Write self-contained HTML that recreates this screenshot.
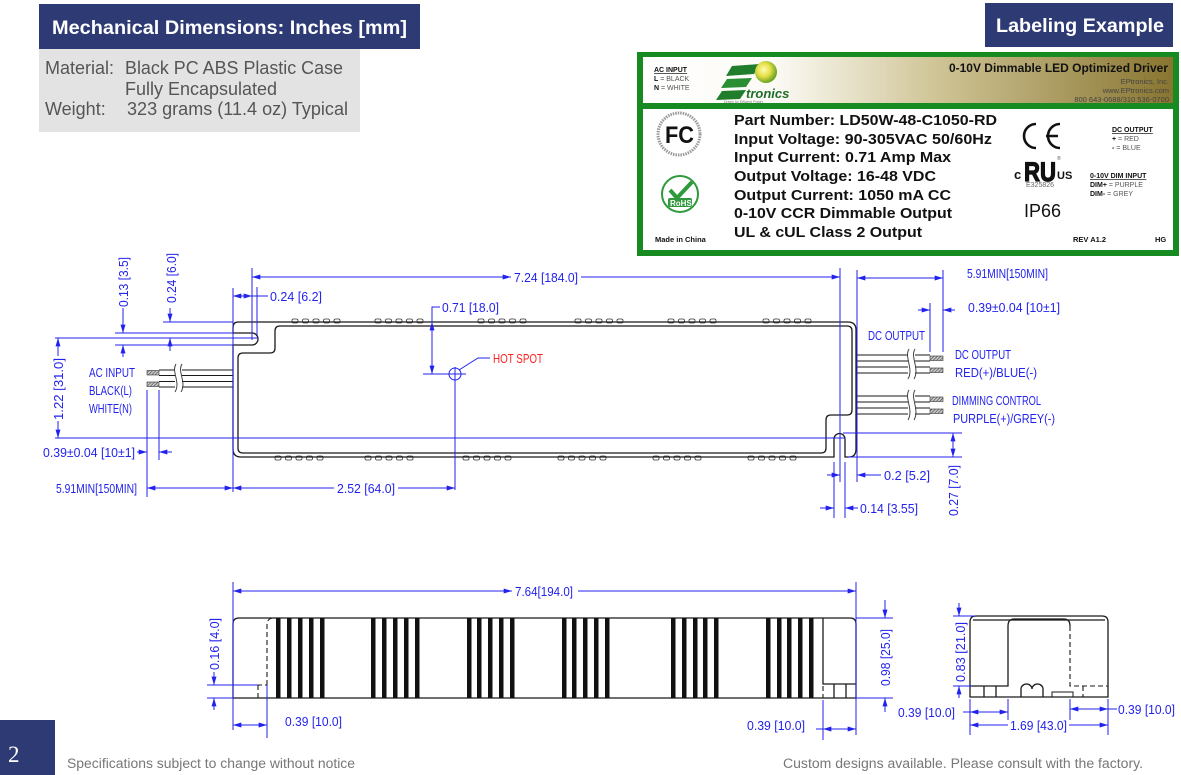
<!DOCTYPE html>
<html><head><meta charset="utf-8"><style>
html,body{margin:0;padding:0;background:#fff;}
svg{display:block;}
.d{font-family:"Liberation Sans Narrow","Liberation Sans",sans-serif;font-size:13px;fill:#2222ee;}
.bl{stroke:#2222ee;stroke-width:1;fill:none;}
.ba{stroke:#2222ee;stroke-width:1;fill:none;marker-end:url(#ar);}
.bb{stroke:#2222ee;stroke-width:1;fill:none;marker-start:url(#ar);marker-end:url(#ar);}
.k{stroke:#1a1a1a;stroke-width:1.3;fill:none;}
.kd{stroke:#1a1a1a;stroke-width:1.1;fill:none;stroke-dasharray:5 3;}
.ls{font-family:"Liberation Sans",Arial,sans-serif;fill:#555;}
</style></head><body>
<svg width="1181" height="775" viewBox="0 0 1181 775" xmlns="http://www.w3.org/2000/svg">
<defs>
<marker id="ar" viewBox="0 0 10 6" refX="10" refY="3" markerWidth="9" markerHeight="5" markerUnits="userSpaceOnUse" orient="auto-start-reverse"><path d="M0,0 L10,3 L0,6 z" fill="#2222ee"/></marker>
<pattern id="h" width="2.4" height="2.4" patternUnits="userSpaceOnUse" patternTransform="rotate(45)"><rect width="2.4" height="2.4" fill="#c8c8c8"/><line x1="0" y1="0" x2="0" y2="2.4" stroke="#444" stroke-width="1.2"/></pattern>
<linearGradient id="gold" x1="0" y1="0" x2="1" y2="0">
<stop offset="0" stop-color="#ffffff"/><stop offset="0.25" stop-color="#fbfaf4"/><stop offset="0.55" stop-color="#d0c597"/><stop offset="1" stop-color="#887530"/></linearGradient>
<radialGradient id="ball" cx="0.4" cy="0.4" r="0.6"><stop offset="0" stop-color="#fffbb0"/><stop offset="0.5" stop-color="#e6e04a"/><stop offset="1" stop-color="#6aa320"/></radialGradient>
</defs>

<!-- Header left -->
<rect x="39" y="4" width="381" height="45" fill="#2e3a74"/>
<text x="52" y="34" font-family="Liberation Sans, Arial, sans-serif" font-weight="bold" font-size="19" fill="#fff" textLength="355" lengthAdjust="spacingAndGlyphs">Mechanical Dimensions: Inches [mm]</text>
<rect x="39" y="49" width="321" height="83" fill="#e3e3e3"/>
<g class="ls" font-size="18" fill="#5a5a5a">
<text x="45" y="74">Material:</text>
<text x="125" y="74" textLength="218" lengthAdjust="spacingAndGlyphs">Black PC ABS Plastic Case</text>
<text x="125" y="95" textLength="152" lengthAdjust="spacingAndGlyphs">Fully Encapsulated</text>
<text x="45" y="115">Weight:</text>
<text x="127" y="115" textLength="221" lengthAdjust="spacingAndGlyphs">323 grams (11.4 oz) Typical</text>
</g>

<!-- Header right -->
<rect x="985" y="3" width="188" height="44" fill="#2e3a74"/>
<text x="996" y="32" font-family="Liberation Sans, Arial, sans-serif" font-weight="bold" font-size="19" fill="#fff" textLength="168" lengthAdjust="spacingAndGlyphs">Labeling Example</text>

<!-- Label -->
<rect x="637" y="52" width="542" height="204" fill="#178a22"/>
<rect x="643" y="57" width="530" height="46" fill="url(#gold)"/>
<rect x="643" y="109" width="530" height="141" fill="#fff"/>
<g font-family="Liberation Sans, Arial, sans-serif">
<text x="654" y="72" font-size="7" font-weight="bold" fill="#111" text-decoration="underline">AC INPUT</text>
<text x="654" y="81" font-size="7" fill="#555"><tspan font-weight="bold" fill="#111">L</tspan> = BLACK</text>
<text x="654" y="90" font-size="7" fill="#555"><tspan font-weight="bold" fill="#111">N</tspan> = WHITE</text>
<!-- logo -->
<polygon points="732,66 760,64 754,74 726,76" fill="#1f7d2c"/>
<polygon points="727,79 752,78 746,87 721,88" fill="#2a8f33"/>
<polygon points="722,91 746,90 740,99 716,100" fill="#1f7d2c"/>
<circle cx="766" cy="72" r="11" fill="url(#ball)"/>
<text x="746" y="98" font-size="13" font-style="italic" font-weight="bold" fill="#1d6e2a">tronics</text>
<text x="724" y="103" font-size="3.5" fill="#777">Driven by Efficient Power</text>
<text x="949" y="72" font-size="11.5" font-weight="bold" fill="#111" textLength="219" lengthAdjust="spacingAndGlyphs">0-10V Dimmable LED Optimized Driver</text>
<text x="1169" y="84" font-size="7.5" fill="#444" text-anchor="end">EPtronics, Inc.</text>
<text x="1169" y="93" font-size="7.5" fill="#444" text-anchor="end">www.EPtronics.com</text>
<text x="1169" y="102" font-size="7.5" fill="#444" text-anchor="end">800 643-0688/310 536-0700</text>

<g font-size="14.5" font-weight="bold" fill="#111">
<text x="734" y="125" textLength="263" lengthAdjust="spacingAndGlyphs">Part Number: LD50W-48-C1050-RD</text>
<text x="734" y="144" textLength="258" lengthAdjust="spacingAndGlyphs">Input Voltage: 90-305VAC 50/60Hz</text>
<text x="734" y="162" textLength="217" lengthAdjust="spacingAndGlyphs">Input Current: 0.71 Amp Max</text>
<text x="734" y="181" textLength="202" lengthAdjust="spacingAndGlyphs">Output Voltage: 16-48 VDC</text>
<text x="734" y="200" textLength="217" lengthAdjust="spacingAndGlyphs">Output Current: 1050 mA CC</text>
<text x="734" y="218" textLength="218" lengthAdjust="spacingAndGlyphs">0-10V CCR Dimmable Output</text>
<text x="734" y="237" textLength="188" lengthAdjust="spacingAndGlyphs">UL &amp; cUL Class 2 Output</text>
</g>
<!-- FCC -->
<circle cx="679" cy="134" r="21" fill="none" stroke="#999" stroke-width="3" stroke-dasharray="1.5 1"/>
<circle cx="679" cy="134" r="15" fill="#fff"/>
<text x="665" y="143" font-size="24" font-weight="bold" fill="#111" textLength="29" lengthAdjust="spacingAndGlyphs">FC</text>
<!-- RoHS -->
<circle cx="680" cy="194" r="18" fill="#fff" stroke="#2f9a3c" stroke-width="2"/>
<path d="M670,190 L677,198 L692,182" fill="none" stroke="#2f9a3c" stroke-width="4"/>
<rect x="668" y="198" width="24" height="9" rx="2" fill="#2f9a3c"/>
<text x="670" y="206" font-size="8" font-weight="bold" fill="#fff">RoHS</text>
<text x="655" y="242" font-size="7.5" font-weight="bold" fill="#111">Made in China</text>
<!-- CE -->
<path d="M1036,124 A12,12 0 1 0 1036,148" fill="none" stroke="#111" stroke-width="2.6"/>
<path d="M1060,124 A12,12 0 1 0 1060,148 M1046,136 H1058" fill="none" stroke="#111" stroke-width="2.6"/>
<!-- UL -->
<text x="1014" y="179" font-size="13" font-weight="bold" fill="#111">c</text>
<text x="1024" y="181" font-size="27" font-weight="bold" fill="#111" stroke="#111" stroke-width="1.2" textLength="32" lengthAdjust="spacingAndGlyphs">RU</text>
<text x="1057" y="179" font-size="11" font-weight="bold" fill="#111">US</text>
<text x="1057" y="160" font-size="5" fill="#555">®</text>
<text x="1026" y="187" font-size="7" fill="#666">E325826</text>
<text x="1024" y="217" font-size="18" fill="#111">IP66</text>
<text x="1112" y="132" font-size="7" font-weight="bold" fill="#111" text-decoration="underline">DC OUTPUT</text>
<text x="1112" y="141" font-size="7" fill="#555"><tspan font-weight="bold" fill="#111">+</tspan> = RED</text>
<text x="1112" y="150" font-size="7" fill="#555"><tspan font-weight="bold" fill="#111">-</tspan> = BLUE</text>
<text x="1090" y="178" font-size="7" font-weight="bold" fill="#111" text-decoration="underline">0-10V DIM INPUT</text>
<text x="1090" y="187" font-size="7" fill="#555"><tspan font-weight="bold" fill="#111">DIM+</tspan> = PURPLE</text>
<text x="1090" y="196" font-size="7" fill="#555"><tspan font-weight="bold" fill="#111">DIM-</tspan> = GREY</text>
<text x="1073" y="242" font-size="7.5" font-weight="bold" fill="#111">REV A1.2</text>
<text x="1155" y="242" font-size="7.5" font-weight="bold" fill="#111">HG</text>
</g>

<!-- ===== TOP VIEW ===== -->
<g fill="#fff" stroke="#333" stroke-width="0.8">
<rect x="292" y="319" width="6" height="4" rx="1.5"/><rect x="302.5" y="319" width="6" height="4" rx="1.5"/><rect x="313" y="319" width="6" height="4" rx="1.5"/><rect x="323.5" y="319" width="6" height="4" rx="1.5"/><rect x="334" y="319" width="6" height="4" rx="1.5"/>
<rect x="375" y="319" width="6" height="4" rx="1.5"/><rect x="385.5" y="319" width="6" height="4" rx="1.5"/><rect x="396" y="319" width="6" height="4" rx="1.5"/><rect x="406.5" y="319" width="6" height="4" rx="1.5"/><rect x="417" y="319" width="6" height="4" rx="1.5"/>
<rect x="478" y="319" width="6" height="4" rx="1.5"/><rect x="488.5" y="319" width="6" height="4" rx="1.5"/><rect x="499" y="319" width="6" height="4" rx="1.5"/><rect x="509.5" y="319" width="6" height="4" rx="1.5"/><rect x="520" y="319" width="6" height="4" rx="1.5"/>
<rect x="575" y="319" width="6" height="4" rx="1.5"/><rect x="585.5" y="319" width="6" height="4" rx="1.5"/><rect x="596" y="319" width="6" height="4" rx="1.5"/><rect x="606.5" y="319" width="6" height="4" rx="1.5"/><rect x="617" y="319" width="6" height="4" rx="1.5"/>
<rect x="668" y="319" width="6" height="4" rx="1.5"/><rect x="678.5" y="319" width="6" height="4" rx="1.5"/><rect x="689" y="319" width="6" height="4" rx="1.5"/><rect x="699.5" y="319" width="6" height="4" rx="1.5"/><rect x="710" y="319" width="6" height="4" rx="1.5"/>
<rect x="763" y="319" width="6" height="4" rx="1.5"/><rect x="773.5" y="319" width="6" height="4" rx="1.5"/><rect x="784" y="319" width="6" height="4" rx="1.5"/><rect x="794.5" y="319" width="6" height="4" rx="1.5"/><rect x="805" y="319" width="6" height="4" rx="1.5"/>
<rect x="275" y="456" width="6" height="4" rx="1.5"/><rect x="285.5" y="456" width="6" height="4" rx="1.5"/><rect x="296" y="456" width="6" height="4" rx="1.5"/><rect x="306.5" y="456" width="6" height="4" rx="1.5"/><rect x="317" y="456" width="6" height="4" rx="1.5"/>
<rect x="365" y="456" width="6" height="4" rx="1.5"/><rect x="375.5" y="456" width="6" height="4" rx="1.5"/><rect x="386" y="456" width="6" height="4" rx="1.5"/><rect x="396.5" y="456" width="6" height="4" rx="1.5"/><rect x="407" y="456" width="6" height="4" rx="1.5"/>
<rect x="463" y="456" width="6" height="4" rx="1.5"/><rect x="473.5" y="456" width="6" height="4" rx="1.5"/><rect x="484" y="456" width="6" height="4" rx="1.5"/><rect x="494.5" y="456" width="6" height="4" rx="1.5"/><rect x="505" y="456" width="6" height="4" rx="1.5"/>
<rect x="558" y="456" width="6" height="4" rx="1.5"/><rect x="568.5" y="456" width="6" height="4" rx="1.5"/><rect x="579" y="456" width="6" height="4" rx="1.5"/><rect x="589.5" y="456" width="6" height="4" rx="1.5"/><rect x="600" y="456" width="6" height="4" rx="1.5"/>
<rect x="653" y="456" width="6" height="4" rx="1.5"/><rect x="663.5" y="456" width="6" height="4" rx="1.5"/><rect x="674" y="456" width="6" height="4" rx="1.5"/><rect x="684.5" y="456" width="6" height="4" rx="1.5"/><rect x="695" y="456" width="6" height="4" rx="1.5"/>
<rect x="748" y="456" width="6" height="4" rx="1.5"/><rect x="758.5" y="456" width="6" height="4" rx="1.5"/><rect x="769" y="456" width="6" height="4" rx="1.5"/><rect x="779.5" y="456" width="6" height="4" rx="1.5"/><rect x="790" y="456" width="6" height="4" rx="1.5"/>
</g>
<path class="k" fill="#fff" d="M238,322 H848 Q856,322 856,330 V449 Q856,457 849,457 H845 V439 A5.5,5.5 0 0 0 834,439 V457 H241 Q233,457 233,449 V345 H252 A6,6 0 0 0 252,333 H233 V328 Q233,322 238,322 Z"/>
<path class="k" d="M243,353 H270 Q275,353 275,348 V331 Q275,326 280,326 H847 Q852,326 852,331 V410 Q852,415 847,415 H831 Q826,415 826,420 V448 Q826,453 821,453 H243 Q238,453 238,448 V358 Q238,353 243,353 Z"/>

<!-- left wires -->
<g stroke="#1a1a1a" stroke-width="1" fill="none">
<line x1="159" y1="370" x2="233" y2="370"/><line x1="159" y1="375.5" x2="233" y2="375.5"/>
<line x1="159" y1="381.5" x2="233" y2="381.5"/><line x1="159" y1="387" x2="233" y2="387"/>
</g>
<rect x="147" y="370.5" width="12" height="4.5" fill="url(#h)" stroke="#333" stroke-width="0.6"/>
<rect x="147" y="382" width="12" height="4.5" fill="url(#h)" stroke="#333" stroke-width="0.6"/>
<rect x="175" y="364" width="7" height="28" fill="#fff"/>
<path d="M176,364 C171,372 181,382 175,392 M182,364 C177,372 187,382 181,392" stroke="#333" stroke-width="0.9" fill="none"/>

<!-- right wires -->
<g stroke="#1a1a1a" stroke-width="1" fill="none">
<line x1="856" y1="355" x2="930" y2="355"/><line x1="856" y1="361" x2="930" y2="361"/>
<line x1="856" y1="367" x2="930" y2="367"/><line x1="856" y1="373" x2="930" y2="373"/>
<line x1="856" y1="396" x2="930" y2="396"/><line x1="856" y1="402" x2="930" y2="402"/>
<line x1="856" y1="408" x2="930" y2="408"/><line x1="856" y1="414" x2="930" y2="414"/>
</g>
<g fill="url(#h)" stroke="#333" stroke-width="0.6">
<rect x="930" y="356" width="13" height="4.5"/><rect x="930" y="368" width="13" height="4.5"/>
<rect x="930" y="397" width="13" height="4.5"/><rect x="930" y="409" width="13" height="4.5"/>
</g>
<rect x="908" y="349" width="7" height="30" fill="#fff"/>
<rect x="908" y="390" width="7" height="30" fill="#fff"/>
<path d="M909,349 C904,357 914,369 908,379 M915,349 C910,357 920,369 914,379 M909,390 C904,398 914,410 908,420 M915,390 C910,398 920,410 914,420" stroke="#333" stroke-width="0.9" fill="none"/>

<!-- blue dims top view -->
<g>
<line class="bl" x1="252" y1="268" x2="252" y2="340"/>
<line class="bl" x1="233" y1="288" x2="233" y2="492"/>
<line class="bl" x1="257" y1="287" x2="257" y2="335"/>
<line class="bl" x1="840" y1="268" x2="840" y2="482"/>
<line class="bl" x1="857" y1="270" x2="857" y2="482"/>
<line class="bl" x1="943" y1="270" x2="943" y2="352"/>
<line class="bl" x1="930" y1="303" x2="930" y2="352"/>
<line class="bl" x1="115" y1="333" x2="233" y2="333"/>
<line class="bl" x1="115" y1="345" x2="233" y2="345"/>
<line class="bl" x1="163" y1="322" x2="233" y2="322"/>
<line class="bl" x1="55" y1="338" x2="258" y2="338"/>
<line class="bl" x1="55" y1="438" x2="845" y2="438"/>
<line class="bl" x1="147" y1="390" x2="147" y2="497"/>
<line class="bl" x1="159" y1="390" x2="159" y2="460"/>
<line class="bl" x1="843" y1="433" x2="962" y2="433"/>
<line class="bl" x1="848" y1="457" x2="962" y2="457"/>
<line class="bl" x1="834" y1="462" x2="834" y2="518"/>
<line class="bl" x1="845" y1="462" x2="845" y2="518"/>
<line class="bl" x1="455" y1="367" x2="455" y2="490"/>
<path class="bb" d="M252,277 H511"/><line class="bl" x1="581" y1="277" x2="800" y2="277"/><path class="ba" d="M800,277 H840"/>
<text class="d" x="514" y="282" textLength="64" lengthAdjust="spacingAndGlyphs">7.24 [184.0]</text>
<path class="bb" d="M233,296 H252"/><line class="bl" x1="252" y1="296" x2="268" y2="296"/>
<text class="d" x="270" y="301" textLength="52" lengthAdjust="spacingAndGlyphs">0.24 [6.2]</text>
<polyline class="bl" points="440,307 432,307 432,322"/>
<path class="ba" d="M432,348 V322"/><path class="ba" d="M432,348 V374"/>
<text class="d" x="442" y="312" textLength="57" lengthAdjust="spacingAndGlyphs">0.71 [18.0]</text>
<line class="bl" x1="423" y1="374" x2="466" y2="374"/>
<circle class="bl" cx="455" cy="374" r="6"/>
<polyline class="bl" points="459,370 478,358 490,358"/>
<text x="493" y="363" font-family="Liberation Sans Narrow, Liberation Sans, sans-serif" font-size="13" fill="#ff2020" textLength="50" lengthAdjust="spacingAndGlyphs">HOT SPOT</text>
<path class="ba" d="M123,308 V333"/><path class="ba" d="M123,357 V345"/>
<text class="d" transform="translate(128,307) rotate(-90)" textLength="50" lengthAdjust="spacingAndGlyphs">0.13 [3.5]</text>
<path class="ba" d="M170,308 V322"/><path class="ba" d="M170,351 V338"/>
<text class="d" transform="translate(176,303) rotate(-90)" textLength="50" lengthAdjust="spacingAndGlyphs">0.24 [6.0]</text>
<path class="ba" d="M58,356 V338"/><path class="ba" d="M58,421 V438"/>
<text class="d" transform="translate(63,420) rotate(-90)" textLength="62" lengthAdjust="spacingAndGlyphs">1.22 [31.0]</text>
<text class="d" x="89" y="377" textLength="46" lengthAdjust="spacingAndGlyphs">AC INPUT</text>
<text class="d" x="89" y="395" textLength="43" lengthAdjust="spacingAndGlyphs">BLACK(L)</text>
<text class="d" x="89" y="413" textLength="43" lengthAdjust="spacingAndGlyphs">WHITE(N)</text>
<path class="ba" d="M137,452 H147"/><path class="ba" d="M172,452 H159"/>
<text class="d" x="43" y="457" textLength="92" lengthAdjust="spacingAndGlyphs">0.39±0.04 [10±1]</text>
<path class="bb" d="M147,488 H233"/>
<text class="d" x="56" y="493" textLength="81" lengthAdjust="spacingAndGlyphs">5.91MIN[150MIN]</text>
<path class="ba" d="M280,488 H233"/><line class="bl" x1="280" y1="488" x2="334" y2="488"/><line class="bl" x1="398" y1="488" x2="420" y2="488"/><path class="ba" d="M420,488 H455"/>
<text class="d" x="337" y="493" textLength="58" lengthAdjust="spacingAndGlyphs">2.52 [64.0]</text>
<path class="bb" d="M857,278 H943"/>
<text class="d" x="967" y="278" textLength="81" lengthAdjust="spacingAndGlyphs">5.91MIN[150MIN]</text>
<path class="ba" d="M918,310 H930"/><path class="ba" d="M955,310 H943"/>
<text class="d" x="968" y="312" textLength="92" lengthAdjust="spacingAndGlyphs">0.39±0.04 [10±1]</text>
<text class="d" x="868" y="340" textLength="57" lengthAdjust="spacingAndGlyphs">DC OUTPUT</text>
<text class="d" x="955" y="359" textLength="56" lengthAdjust="spacingAndGlyphs">DC OUTPUT</text>
<text class="d" x="955" y="377" textLength="82" lengthAdjust="spacingAndGlyphs">RED(+)/BLUE(-)</text>
<text class="d" x="952" y="405" textLength="89" lengthAdjust="spacingAndGlyphs">DIMMING CONTROL</text>
<text class="d" x="953" y="423" textLength="102" lengthAdjust="spacingAndGlyphs">PURPLE(+)/GREY(-)</text>
<path class="bb" d="M953,433 V457"/>
<text class="d" transform="translate(958,516) rotate(-90)" textLength="51" lengthAdjust="spacingAndGlyphs">0.27 [7.0]</text>
<path class="ba" d="M827,475 H840"/><path class="ba" d="M881,475 H857"/>
<text class="d" x="884" y="480" textLength="46" lengthAdjust="spacingAndGlyphs">0.2 [5.2]</text>
<path class="ba" d="M820,508 H834"/><path class="ba" d="M858,508 H845"/>
<text class="d" x="860" y="513" textLength="58" lengthAdjust="spacingAndGlyphs">0.14 [3.55]</text>
</g>

<!-- ===== SIDE VIEW ===== -->
<path class="k" d="M233,698 V624 Q233,618 239,618 H850 Q856,618 856,624 V698 Z"/>
<path class="kd" d="M267,685 V625 Q267,618 274,618"/>
<path class="kd" d="M233,685 H267"/>
<path class="kd" d="M258,685 V698"/>
<g fill="#111">
<rect x="276" y="618" width="4.5" height="80"/><rect x="287" y="618" width="4.5" height="80"/><rect x="298" y="618" width="4.5" height="80"/><rect x="309" y="618" width="4.5" height="80"/><rect x="320" y="618" width="4.5" height="80"/>
<rect x="371" y="618" width="4.5" height="80"/><rect x="382" y="618" width="4.5" height="80"/><rect x="393" y="618" width="4.5" height="80"/><rect x="404" y="618" width="4.5" height="80"/><rect x="415" y="618" width="4.5" height="80"/>
<rect x="467" y="618" width="4.5" height="80"/><rect x="477" y="618" width="4.5" height="80"/><rect x="488" y="618" width="4.5" height="80"/><rect x="499" y="618" width="4.5" height="80"/><rect x="510" y="618" width="4.5" height="80"/>
<rect x="562" y="618" width="4.5" height="80"/><rect x="572" y="618" width="4.5" height="80"/><rect x="583" y="618" width="4.5" height="80"/><rect x="594" y="618" width="4.5" height="80"/><rect x="605" y="618" width="4.5" height="80"/>
<rect x="671" y="618" width="4.5" height="80"/><rect x="682" y="618" width="4.5" height="80"/><rect x="693" y="618" width="4.5" height="80"/><rect x="703" y="618" width="4.5" height="80"/><rect x="714" y="618" width="4.5" height="80"/>
<rect x="766" y="618" width="4.5" height="80"/><rect x="777" y="618" width="4.5" height="80"/><rect x="787" y="618" width="4.5" height="80"/><rect x="798" y="618" width="4.5" height="80"/><rect x="809" y="618" width="4.5" height="80"/>
</g>
<path class="k" stroke-width="1" d="M823,618 V684 H856 M834,684 V698 M846,684 V698"/>
<path class="kd" stroke-dasharray="3 2" d="M823,686 V698"/>
<line class="bl" x1="233" y1="582" x2="233" y2="730"/>
<line class="bl" x1="856" y1="582" x2="856" y2="735"/>
<path class="bb" d="M233,591 H512"/><line class="bl" x1="578" y1="591" x2="800" y2="591"/><path class="ba" d="M800,591 H856"/>
<text class="d" x="515" y="596" textLength="58" lengthAdjust="spacingAndGlyphs">7.64[194.0]</text>
<line class="bl" x1="856" y1="618" x2="893" y2="618"/>
<line class="bl" x1="856" y1="698" x2="893" y2="698"/>
<path class="ba" d="M885,600 V618"/><path class="ba" d="M885,712 V698"/>
<text class="d" transform="translate(890,686) rotate(-90)" textLength="57" lengthAdjust="spacingAndGlyphs">0.98 [25.0]</text>
<line class="bl" x1="207" y1="685" x2="258" y2="685"/>
<line class="bl" x1="207" y1="698" x2="233" y2="698"/>
<path class="ba" d="M214,672 V685"/><path class="ba" d="M214,710 V698"/>
<text class="d" transform="translate(219,670) rotate(-90)" textLength="52" lengthAdjust="spacingAndGlyphs">0.16 [4.0]</text>
<line class="bl" x1="267" y1="685" x2="267" y2="738"/>
<path class="bb" d="M233,725 H267"/>
<text class="d" x="285" y="726" textLength="57" lengthAdjust="spacingAndGlyphs">0.39 [10.0]</text>
<line class="bl" x1="823" y1="700" x2="823" y2="740"/>
<path class="bb" d="M823,729 H856"/><line class="bl" x1="816" y1="729" x2="823" y2="729"/>
<text class="d" x="747" y="730" textLength="58" lengthAdjust="spacingAndGlyphs">0.39 [10.0]</text>

<!-- ===== END VIEW ===== -->
<path class="k" d="M970,697 V622 Q970,616 976,616 H1102 Q1108,616 1108,622 V697 Z"/>
<path class="k" stroke-width="1" d="M973,620 H1105"/>
<path class="k" stroke-width="1" d="M970,686 H1008 V626 Q1008,619 1014,619 H1064 Q1070,619 1070,626"/>
<path class="kd" d="M1070,626 V686 H1108"/>
<path class="k" stroke-width="1" d="M984,686 V697 M996,686 V697"/>
<path class="k" stroke-width="1" d="M1021,697 V689 A5.5,5 0 0 1 1032,689 A5.5,5 0 0 1 1043,689 V697"/>
<rect x="1052" y="692" width="21" height="5" fill="none" stroke="#1a1a1a" stroke-width="1"/>
<path class="kd" stroke-dasharray="3 2" d="M1083,686 V697"/>
<line class="bl" x1="953" y1="616" x2="975" y2="616"/>
<line class="bl" x1="953" y1="686" x2="972" y2="686"/>
<path class="ba" d="M959,603 V616"/><path class="ba" d="M959,698 V686"/>
<text class="d" transform="translate(965,682) rotate(-90)" textLength="60" lengthAdjust="spacingAndGlyphs">0.83 [21.0]</text>
<line class="bl" x1="970" y1="699" x2="970" y2="735"/>
<line class="bl" x1="1008" y1="699" x2="1008" y2="720"/>
<line class="bl" x1="1070" y1="699" x2="1070" y2="720"/>
<line class="bl" x1="1108" y1="699" x2="1108" y2="735"/>
<path class="bb" d="M970,712 H1008"/><line class="bl" x1="963" y1="712" x2="970" y2="712"/>
<text class="d" x="898" y="717" textLength="57" lengthAdjust="spacingAndGlyphs">0.39 [10.0]</text>
<path class="bb" d="M1070,709 H1108"/><line class="bl" x1="1108" y1="709" x2="1117" y2="709"/>
<text class="d" x="1118" y="714" textLength="57" lengthAdjust="spacingAndGlyphs">0.39 [10.0]</text>
<path class="ba" d="M1000,725 H970"/><line class="bl" x1="1000" y1="725" x2="1008" y2="725"/><line class="bl" x1="1069" y1="725" x2="1080" y2="725"/><path class="ba" d="M1080,725 H1108"/>
<text class="d" x="1010" y="730" textLength="57" lengthAdjust="spacingAndGlyphs">1.69 [43.0]</text>

<!-- footer -->
<rect x="0" y="720" width="55" height="55" fill="#2e3a74"/>
<text x="8" y="762" font-family="Liberation Serif, serif" font-size="23" fill="#fff">2</text>
<text x="67" y="768" font-family="Liberation Sans, Arial, sans-serif" font-size="13.5" fill="#777" textLength="288" lengthAdjust="spacingAndGlyphs">Specifications subject to change without notice</text>
<text x="783" y="768" font-family="Liberation Sans, Arial, sans-serif" font-size="13.5" fill="#777" textLength="360" lengthAdjust="spacingAndGlyphs">Custom designs available. Please consult with the factory.</text>
</svg>
</body></html>
